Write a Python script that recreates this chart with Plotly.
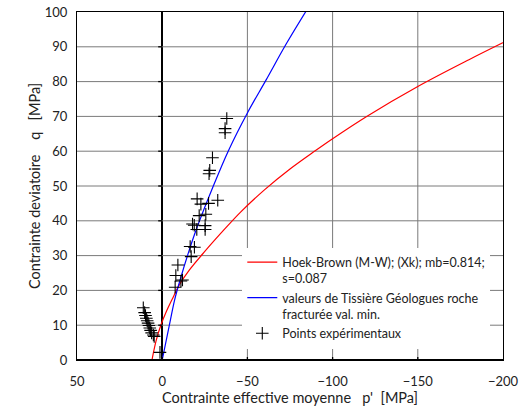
import plotly.graph_objects as go

# Hoek-Brown envelope (M-W), mb=0.814, s=0.087 : p' [MPa], q [MPa]
hb_p = [6.0, 3.6, 0.8, -2.5, -5.7, -10.3, -16.0, -25.0, -37.0, -46.0, -60.0, -75.0, -90.0, -100.0, -120.0, -150.0, -180.0, -205.0]
hb_q = [0.0, 5.5, 10.0, 14.0, 17.3, 21.8, 25.9, 31.2, 37.8, 42.5, 48.9, 54.9, 60.2, 63.6, 70.0, 78.6, 86.3, 92.4]

# Tissière envelope, fractured rock, minimum values
ts_p = [0.0, -4.2, -7.3, -10.5, -15.5, -20.0, -30.0, -39.0, -50.0, -61.0, -73.0, -86.0]
ts_q = [0.0, 10.0, 17.3, 23.0, 31.0, 37.5, 50.0, 60.3, 71.0, 80.5, 91.0, 101.5]

# Experimental points
exp_p = [11.1, 10.3, 9.8, 9.3, 8.8, 8.3, 7.8, 7.3, 6.8, 6.2, 5.2, 4.7, 1.3,
         -7.6, -8.0, -9.2, -11.0, -11.9, -16.4, -18.9, -17.0,
         -20.3, -25.2, -17.8, -18.8, -25.2, -21.7, -25.6,
         -20.5, -22.7, -27.2, -32.6, -27.5, -27.9, -29.5,
         -36.9, -36.9, -37.9]
exp_q = [15.0, 13.6, 12.8, 12.0, 11.3, 10.6, 9.9, 9.2, 8.5, 7.8, 7.2, 6.8, 2.2,
         20.9, 24.3, 27.3, 22.7, 23.0, 32.6, 32.4, 29.7,
         37.5, 37.5, 39.1, 38.7, 38.6, 41.5, 41.9,
         46.3, 44.8, 45.0, 45.9, 53.5, 54.5, 58.1,
         65.3, 66.5, 69.4]

x_ticks = [50, 0, -50, -100, -150, -200]
y_ticks = [0, 10, 20, 30, 40, 50, 60, 70, 80, 90, 100]

FONT = "Lato"
GRID = "#7a7a7a"
TXT = "#222"
X_MIN, X_MAX = 50, -200
Y_MIN, Y_MAX = 0, 100

# grid built from the tick positions (drawn first, beneath the data)
grid_x, grid_y = [], []
for v in y_ticks[1:-1]:
    grid_x += [X_MIN, X_MAX, None]
    grid_y += [v, v, None]
for v in x_ticks[1:-1]:
    if v != 0:
        grid_x += [v, v, None]
        grid_y += [Y_MIN, Y_MAX, None]

fig = go.Figure()
fig.add_trace(go.Scatter(
    x=grid_x, y=grid_y, mode="lines", line=dict(color=GRID, width=1),
    hoverinfo="skip", showlegend=False, connectgaps=False))
fig.add_trace(go.Scatter(
    x=hb_p, y=hb_q, mode="lines", line=dict(color="#ff0000", width=1.2, shape="spline"),
    name="Hoek-Brown (M-W); (Xk); mb=0.814;<br>s=0.087"))
fig.add_trace(go.Scatter(
    x=ts_p, y=ts_q, mode="lines", line=dict(color="#0000ff", width=1.2, shape="spline"),
    name="valeurs de Tissière Géologues roche<br>fracturée val. min."))
fig.add_trace(go.Scatter(
    x=exp_p, y=exp_q, mode="markers",
    marker=dict(symbol="cross-thin", size=9, line=dict(color="black", width=1.1), color="black"),
    name="Points expérimentaux", cliponaxis=False))

fig.update_layout(
    template="none",
    width=520, height=406,
    margin=dict(l=77, r=17, t=12, b=46, autoexpand=False),
    paper_bgcolor="white", plot_bgcolor="white",
    font=dict(family=FONT, size=12, color=TXT),
    showlegend=True,
    legend=dict(
        x=0.388, y=0.323, xanchor="left", yanchor="top",
        bgcolor="white", borderwidth=0, itemwidth=30,
        font=dict(family=FONT, size=12.5, color=TXT),
        valign="top", tracegroupgap=0,
    ),
    xaxis=dict(
        range=[X_MIN, X_MAX], tickmode="array", tickvals=x_ticks,
        showgrid=False, automargin=False,
        showline=True, linecolor="black", linewidth=1, mirror=True,
        ticks="outside", ticklen=9, tickcolor="rgba(0,0,0,0)",
        zeroline=True, zerolinecolor="black", zerolinewidth=1.6,
        tickfont=dict(family=FONT, size=13, color=TXT),
        title=dict(text="Contrainte effective moyenne\u00a0\u00a0 p'\u00a0 [MPa]",
                   font=dict(family=FONT, size=14.5, color=TXT), standoff=4),
    ),
    yaxis=dict(
        range=[Y_MIN, Y_MAX], tickmode="array", tickvals=y_ticks,
        showgrid=False, automargin=False,
        showline=True, linecolor="black", linewidth=1, mirror=True,
        ticks="outside", ticklen=6, tickcolor="rgba(0,0,0,0)", zeroline=False,
        tickfont=dict(family=FONT, size=13, color=TXT),
        title=dict(text="Contrainte deviatoire\u00a0\u00a0\u00a0 q\u00a0\u00a0 [MPa]",
                   font=dict(family=FONT, size=14.5, color=TXT), standoff=0),
    ),
)

# tick marks on the p' = 0 axis
for v in y_ticks[1:-1]:
    fig.add_shape(type="line", xref="x", yref="y", xsizemode="pixel", xanchor=0,
                  x0=-4, x1=0, y0=v, y1=v, line=dict(color="black", width=1.3), layer="above")

# small tick marks across the horizontal axis
for v in x_ticks[1:-1]:
    fig.add_shape(type="line", xref="x", yref="y", ysizemode="pixel", yanchor=Y_MIN,
                  x0=v, x1=v, y0=-3, y1=3, line=dict(color="black", width=1.3), layer="above")

# thicker horizontal axis line at q = 0
fig.add_shape(type="line", xref="x", yref="y", x0=X_MIN, x1=X_MAX, y0=Y_MIN, y1=Y_MIN,
              line=dict(color="black", width=2), layer="above")

fig.write_html("out.html")
